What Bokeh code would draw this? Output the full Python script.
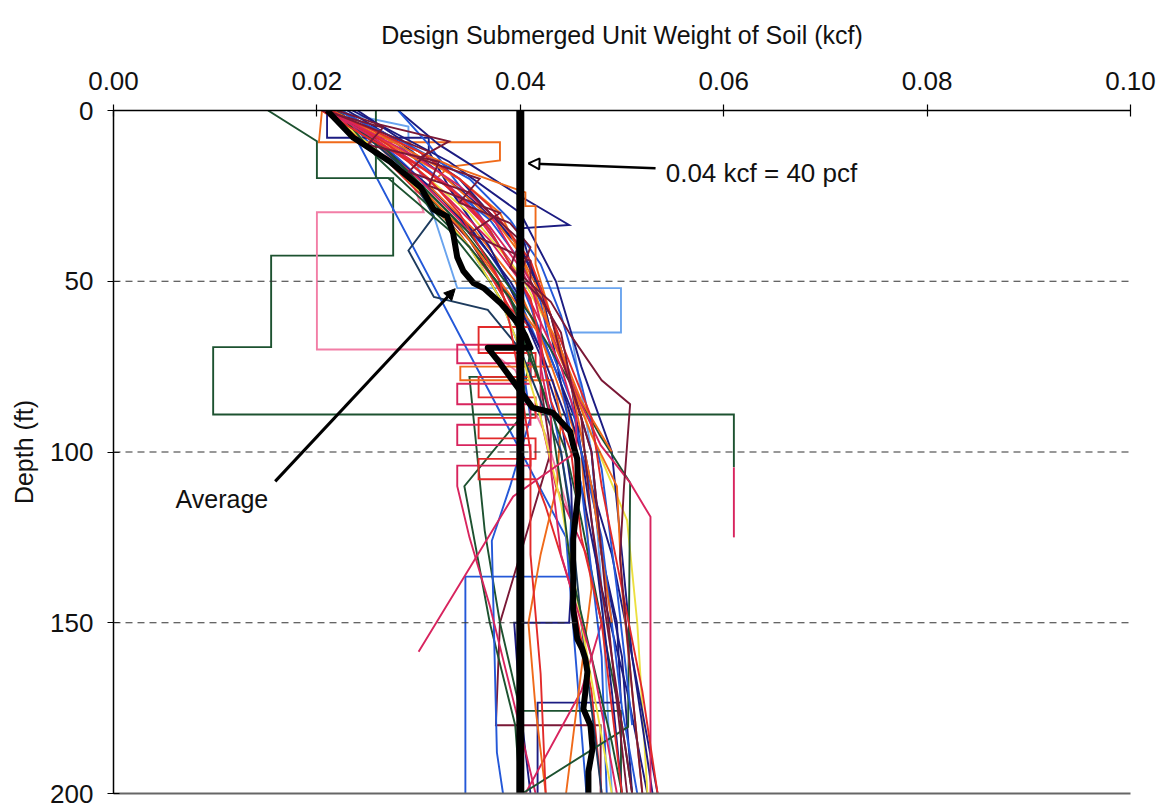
from bokeh.plotting import figure
from bokeh.models import (Range1d, LinearAxis, FixedTicker, NumeralTickFormatter,
                          Span, Label, Arrow, NormalHead)
from bokeh.embed import file_html
from bokeh.resources import INLINE

FONT = "Liberation Sans"

# colours used for the boring profiles
NAVY = "#1c1c82"
DKGREEN = "#1d5230"
MAROON = "#7a1836"
CRIMSON = "#d8245e"
ORANGE = "#f06a1a"
RED = "#e22a2a"
BLUE = "#2458d8"
LTBLUE = "#6aa4ee"
YELLOW = "#ece040"
PINK = "#f27ea6"
TEAL = "#1d3b5e"

x_ticks = [0.00, 0.02, 0.04, 0.06, 0.08, 0.10]
depth_ticks = [0, 50, 100, 150, 200]
depth_grid = [50, 100, 150]
design_value = 0.04

# each boring: (submerged unit weight kcf, depth ft)
b01 = ([0.028, 0.032, 0.0405, 0.0448, 0.040, 0.041, 0.043, 0.045, 0.047, 0.048, 0.050, 0.051],
       [0, 10, 26, 33.5, 34.5, 45, 60, 80, 100, 130, 160, 200])
b02 = ([0.0224, 0.0445, 0.0465], [0, 125, 200])
b03 = ([0.0215, 0.029, 0.029, 0.0338, 0.0499, 0.0499, 0.045, 0.047, 0.048, 0.049],
       [0, 4.7, 8, 52, 52, 65, 65, 100, 140, 200])
b04 = ([0.0152, 0.020, 0.020, 0.0275, 0.0275, 0.0155, 0.0155, 0.0098, 0.0098, 0.061, 0.061],
       [0, 9, 19.8, 19.8, 42.5, 42.5, 69.3, 69.3, 89, 89, 104.5])
b04_tail = ([0.061, 0.061], [104.5, 125])
b05 = ([0.0205, 0.026, 0.0295, 0.0305, 0.0200, 0.0200, 0.0368, 0.0395, 0.0425, 0.0450],
       [0, 10, 22, 29.8, 29.8, 70, 70, 76, 95, 120])
b06 = ([0.0205, 0.0202, 0.038, 0.038, 0.0330, 0.0310, 0.0355, 0.0395, 0.0425, 0.046, 0.047, 0.0445],
       [0, 9.3, 9.3, 14.6, 16.5, 22, 35, 50, 70, 100, 140, 200])
b07 = ([0.021, 0.021, 0.031, 0.031, 0.0335, 0.037, 0.0395, 0.042, 0.0445, 0.046, 0.048, 0.0505, 0.0525],
       [0, 8, 8, 12, 25, 40, 55, 70, 90, 110, 140, 170, 200])
b08 = ([0.021, 0.026, 0.031, 0.029, 0.035, 0.037, 0.040, 0.039, 0.042, 0.044, 0.045, 0.047, 0.048, 0.049, 0.051],
       [0, 6, 12, 18, 24, 30, 38, 46, 55, 65, 80, 100, 130, 160, 200])
b09 = ([0.022, 0.026, 0.033, 0.030, 0.036, 0.034, 0.039, 0.041, 0.040, 0.043, 0.045, 0.048, 0.0508, 0.0502, 0.0498, 0.051, 0.052],
       [0, 4, 9, 14, 20, 27, 33, 40, 48, 56, 66, 79, 86, 110, 131, 170, 200])
b10 = ([0.0205, 0.025, 0.030, 0.034, 0.037, 0.039, 0.041, 0.042, 0.043, 0.045, 0.046, 0.048, 0.049, 0.050],
       [0, 8, 16, 25, 35, 45, 55, 68, 85, 100, 125, 150, 175, 200])
b11 = ([0.021, 0.028, 0.034, 0.038, 0.040, 0.042, 0.043, 0.045, 0.047, 0.0495, 0.050, 0.051, 0.052],
       [0, 10, 20, 30, 42, 54, 66, 80, 95, 110, 140, 170, 200])
b12 = ([0.021, 0.025, 0.029, 0.033, 0.037, 0.040, 0.042, 0.044, 0.0455, 0.0455, 0.0393, 0.030],
       [0, 7, 15, 26, 38, 50, 62, 75, 90, 100, 113, 158.5])
b13 = ([0.022, 0.027, 0.031, 0.035, 0.038, 0.041, 0.044, 0.0479, 0.0508, 0.0506, 0.0402],
       [0, 12, 24, 36, 48, 60, 75, 95.5, 109, 180.5, 200])
b14 = ([0.0215, 0.027, 0.033, 0.037, 0.040, 0.042, 0.044, 0.046, 0.0479, 0.0508, 0.0528, 0.0528],
       [0, 10, 22, 34, 46, 58, 72, 86, 98, 109, 119, 200])
b15 = ([0.023, 0.028, 0.032, 0.036, 0.040, 0.042, 0.043, 0.044, 0.046, 0.049, 0.051, 0.053],
       [0, 9, 18, 28, 40, 52, 65, 80, 100, 130, 160, 200])
b16 = ([0.0225, 0.028, 0.032, 0.037, 0.040, 0.042, 0.043, 0.045, 0.046, 0.048, 0.049, 0.050, 0.0515],
       [0, 10, 20, 32, 44, 56, 70, 85, 100, 125, 150, 175, 200])
b17 = ([0.0205, 0.025, 0.030, 0.034, 0.037, 0.039, 0.041, 0.042, 0.043, 0.045, 0.047, 0.048, 0.050, 0.052, 0.0535],
       [0, 5, 12, 20, 28, 36, 44, 52, 60, 75, 90, 110, 140, 170, 200])
b18 = ([0.0215, 0.026, 0.032, 0.035, 0.038, 0.040, 0.041, 0.042, 0.044, 0.046, 0.049],
       [0, 8, 18, 26, 34, 42, 50, 58, 70, 85, 100])
b19 = ([0.0205, 0.0265, 0.025, 0.032, 0.031, 0.038, 0.035, 0.041, 0.041, 0.043, 0.044, 0.046, 0.047, 0.049, 0.0505],
       [0, 5, 10, 15, 22, 30, 36, 44, 50, 60, 72, 90, 120, 160, 200])
b20 = ([0.022, 0.026, 0.031, 0.035, 0.039, 0.041, 0.043, 0.044, 0.045, 0.047, 0.049, 0.050],
       [0, 14, 28, 40, 55, 70, 90, 110, 135, 160, 185, 200])
b21 = ([0.0225, 0.029, 0.035, 0.040, 0.044, 0.047, 0.0505, 0.0515, 0.0525],
       [0, 15, 30, 48, 70, 95, 120, 150, 200])
b22 = ([0.024, 0.034, 0.040, 0.043, 0.045, 0.046, 0.047, 0.048, 0.049, 0.050],
       [0, 20, 40, 60, 80, 100, 120, 145, 170, 200])
b23 = ([0.021, 0.025, 0.030, 0.034, 0.037, 0.039, 0.041, 0.042, 0.042, 0.043, 0.043, 0.044, 0.047, 0.0495],
       [0, 6, 14, 22, 30, 40, 50, 62, 75, 90, 105, 130, 160, 200])
b24 = ([0.0215, 0.027, 0.031, 0.034, 0.036, 0.038, 0.039, 0.040, 0.041, 0.041, 0.042, 0.0425],
       [0, 10, 20, 30, 40, 50, 63, 80, 100, 130, 165, 200])
b25 = ([0.022, 0.025, 0.029, 0.0315, 0.029, 0.0315, 0.0368, 0.040, 0.042, 0.044, 0.045, 0.046, 0.047, 0.048],
       [0, 8, 18, 31, 41, 54.6, 58.4, 70, 85, 100, 120, 150, 175, 200])
b26 = ([0.0258, 0.0258, 0.027, 0.033, 0.037, 0.040, 0.042, 0.0445, 0.046, 0.048, 0.050, 0.051],
       [0, 19.8, 19.8, 35, 50, 65, 80, 100, 120, 150, 180, 200])
b27 = ([0.028, 0.031, 0.034, 0.037, 0.040, 0.042, 0.044, 0.045, 0.046, 0.047, 0.048, 0.0485],
       [0, 10, 22, 35, 50, 65, 80, 95, 110, 135, 160, 200])
b28 = ([0.021, 0.026, 0.030, 0.034, 0.037, 0.039, 0.041, 0.0338, 0.0338, 0.041, 0.041, 0.0338, 0.0338,
        0.041, 0.041, 0.0338, 0.0338, 0.041, 0.041, 0.0338, 0.0338, 0.0350, 0.0370, 0.0395, 0.0415],
       [0, 10, 20, 32, 44, 56, 68.6, 68.6, 74, 74, 80, 80, 86, 86, 92, 92, 98, 98, 104, 104, 110,
        125, 145, 175, 200])
b29 = ([0.0205, 0.026, 0.030, 0.034, 0.037, 0.039, 0.041, 0.0359, 0.0359, 0.0415, 0.0415, 0.0359, 0.0359,
        0.0415, 0.0415, 0.0359, 0.0359, 0.0415, 0.0415, 0.0359, 0.0359, 0.0415, 0.0425, 0.045, 0.047, 0.048],
       [0, 12, 24, 36, 48, 58, 63.4, 63.4, 71, 71, 78, 78, 84, 84, 90, 90, 96, 96, 102, 102, 108, 108,
        116, 140, 170, 200])
b30 = ([0.021, 0.025, 0.030, 0.034, 0.037, 0.040, 0.042, 0.043, 0.0341, 0.0341, 0.0432, 0.044, 0.0436,
        0.0420, 0.0408, 0.0415, 0.0425],
       [0, 10, 22, 34, 46, 58, 66, 75, 75, 79, 79, 90, 110, 130, 150, 175, 200])
b31 = ([0.022, 0.028, 0.033, 0.037, 0.040, 0.041, 0.041, 0.035, 0.0365, 0.038, 0.040, 0.0499, 0.0499],
       [0, 15, 30, 45, 60, 70, 78, 78, 123, 150, 175.8, 175.8, 200])
b32 = ([0.0225, 0.028, 0.033, 0.037, 0.040, 0.042, 0.043, 0.044, 0.045, 0.0448, 0.0346, 0.0346],
       [0, 14, 28, 42, 56, 70, 85, 100, 118, 136.5, 136.5, 200])
b33 = ([0.0225, 0.027, 0.032, 0.036, 0.039, 0.042, 0.044, 0.046, 0.047, 0.048, 0.0495, 0.0499, 0.0417, 0.0417],
       [0, 12, 25, 38, 50, 65, 80, 95, 110, 130, 150, 173.4, 173.4, 200])
b34 = ([0.021, 0.026, 0.031, 0.035, 0.038, 0.040, 0.042, 0.043, 0.041, 0.038, 0.0376, 0.0479, 0.0479],
       [0, 12, 25, 38, 52, 66, 80, 100, 120, 150, 180, 180, 200])
b35 = ([0.022, 0.026, 0.031, 0.035, 0.038, 0.040, 0.042, 0.044, 0.045, 0.0452, 0.0448, 0.0394, 0.040, 0.041],
       [0, 10, 22, 34, 46, 58, 72, 90, 110, 130, 150, 150, 175, 200])
b36 = ([0.0215, 0.026, 0.032, 0.036, 0.039, 0.041, 0.042, 0.042, 0.0435, 0.0465, 0.048, 0.046, 0.0405],
       [0, 9, 20, 32, 44, 56, 70, 90, 110, 130, 150, 170, 200])
b37 = ([0.021, 0.026, 0.031, 0.035, 0.038, 0.040, 0.042, 0.044, 0.046, 0.049],
       [0, 12, 26, 40, 55, 70, 90, 115, 150, 200])
b38 = ([0.0235, 0.033, 0.040, 0.0435, 0.046, 0.049, 0.050, 0.051, 0.0535],
       [0, 15, 30, 50, 75, 100, 130, 160, 200])
b39 = ([0.0215, 0.025, 0.031, 0.035, 0.039, 0.041, 0.040, 0.0345, 0.037, 0.0395, 0.040],
       [0, 10, 25, 40, 55, 70, 90, 110, 150, 180, 200])
b40 = ([0.022, 0.026, 0.031, 0.035, 0.038, 0.040, 0.041, 0.039, 0.0372, 0.0377, 0.0383],
       [0, 12, 26, 40, 55, 70, 90, 110, 126, 188, 200])
b41 = ([0.0215, 0.027, 0.033, 0.0405, 0.0405, 0.0415, 0.0415, 0.043, 0.045, 0.047, 0.049],
       [0, 8, 16, 24, 28, 28, 45, 60, 80, 110, 150])
b42 = ([0.022, 0.029, 0.035, 0.039, 0.042, 0.044, 0.046, 0.048, 0.0495, 0.051],
       [0, 10, 20, 32, 45, 60, 80, 105, 140, 180])

# average of all borings
avg_x = [0.0210, 0.0236, 0.0272, 0.0302, 0.0315, 0.0328, 0.0334, 0.0338, 0.0344, 0.0354,
         0.0364, 0.0381, 0.0397, 0.0405, 0.0410, 0.0368, 0.0380, 0.0412, 0.0432, 0.0449,
         0.0452, 0.0456, 0.0457, 0.0452, 0.0452, 0.0456, 0.0461, 0.0464, 0.0466, 0.0464,
         0.0462, 0.0469, 0.0471, 0.0467, 0.0467]
avg_d = [0, 8, 15, 22.5, 29, 31, 36, 43, 47, 50.5,
         52, 56.5, 62, 66, 69.5, 69.5, 74, 87, 88.5, 94,
         98, 102, 112, 125.5, 146, 154.7, 157.7, 160.6, 164.4, 170.2,
         175.2, 180.1, 186.9, 193.6, 200]

profiles = [
    (b04, DKGREEN), (b04_tail, CRIMSON), (b05, PINK), (b02, BLUE), (b03, LTBLUE),
    (b32, BLUE), (b33, NAVY), (b34, MAROON), (b35, NAVY), (b31, DKGREEN),
    (b39, DKGREEN), (b40, BLUE), (b36, CRIMSON), (b28, CRIMSON), (b29, RED),
    (b30, ORANGE), (b06, ORANGE), (b07, NAVY), (b01, NAVY), (b25, TEAL),
    (b26, DKGREEN), (b27, BLUE), (b21, YELLOW), (b37, YELLOW), (b38, NAVY),
    (b22, NAVY), (b15, NAVY), (b16, BLUE), (b20, DKGREEN), (b13, DKGREEN),
    (b42, BLUE), (b41, ORANGE),
    (b14, CRIMSON), (b12, CRIMSON), (b11, ORANGE), (b18, ORANGE), (b10, RED),
    (b17, RED), (b24, RED), (b23, CRIMSON), (b08, MAROON), (b19, MAROON), (b09, MAROON),
]

p = figure(width=1165, height=808, output_backend="svg", toolbar_location=None,
           x_range=Range1d(0, 0.10), y_range=Range1d(200, 0),
           x_axis_location="above",
           min_border_left=113, min_border_right=35, min_border_top=110, min_border_bottom=15)
p.outline_line_color = None
p.background_fill_color = "white"
p.border_fill_color = "white"
p.xgrid.visible = False
p.ygrid.visible = False

for (xs, ds), col in profiles:
    p.line(xs, ds, line_color=col, line_width=1.9, line_join="miter")

# design value line
p.line([design_value, design_value], [depth_ticks[0], depth_ticks[-1]],
       line_color="black", line_width=8)
# average profile
p.line(avg_x, avg_d, line_color="black", line_width=6, line_join="round")

for d in depth_grid:
    p.add_layout(Span(location=d, dimension="width", line_color="#333333",
                      line_width=1.2, line_dash="7 5"))

# axes
xa = p.xaxis[0]
xa.ticker = FixedTicker(ticks=x_ticks)
xa.formatter = NumeralTickFormatter(format="0.00")
xa.axis_label = "Design Submerged Unit Weight of Soil (kcf)"
ya = p.yaxis[0]
ya.ticker = FixedTicker(ticks=depth_ticks)
ya.axis_label = "Depth (ft)"
for ax in (xa, ya):
    ax.minor_tick_line_color = None
    ax.major_tick_in = 6
    ax.major_tick_out = 6
    ax.axis_line_color = "black"
    ax.axis_line_width = 1.5
    ax.major_tick_line_color = "black"
    ax.major_tick_line_width = 1.2
    ax.major_label_text_font = FONT
    ax.major_label_text_color = "#111111"
    ax.axis_label_text_font = FONT
    ax.axis_label_text_font_size = "25px"
    ax.axis_label_text_font_style = "normal"
    ax.axis_label_text_color = "#111111"
xa.major_label_text_font_size = "26px"
ya.major_label_text_font_size = "26px"
xa.major_label_standoff = 15
xa.axis_label_standoff = 20
ya.major_label_standoff = 14
ya.axis_label_standoff = 9

bottom = LinearAxis(ticker=FixedTicker(ticks=[]), major_label_text_font_size="0px",
                    axis_line_color="#666666", axis_line_width=2,
                    major_tick_line_color=None, minor_tick_line_color=None)
p.add_layout(bottom, "below")

# annotations
p.add_layout(Arrow(end=NormalHead(size=11, fill_color="white", line_color="black", line_width=2),
                   x_start=0.0533, y_start=16.9, x_end=0.0408, y_end=15.5,
                   line_color="black", line_width=2.5))
p.add_layout(Label(x=0.0543, y=18.4, text="0.04 kcf = 40 pcf", text_font=FONT,
                   text_font_size="26px", text_baseline="middle", text_color="#111111"))
p.add_layout(Arrow(end=NormalHead(size=11, fill_color="black", line_color="black"),
                   x_start=0.0159, y_start=108.6, x_end=0.0336, y_end=52.2,
                   line_color="black", line_width=3))
p.add_layout(Label(x=0.0061, y=113.9, text="Average", text_font=FONT,
                   text_font_size="25px", text_baseline="middle", text_color="#111111"))

open("out.html", "w").write(file_html(p, INLINE))
